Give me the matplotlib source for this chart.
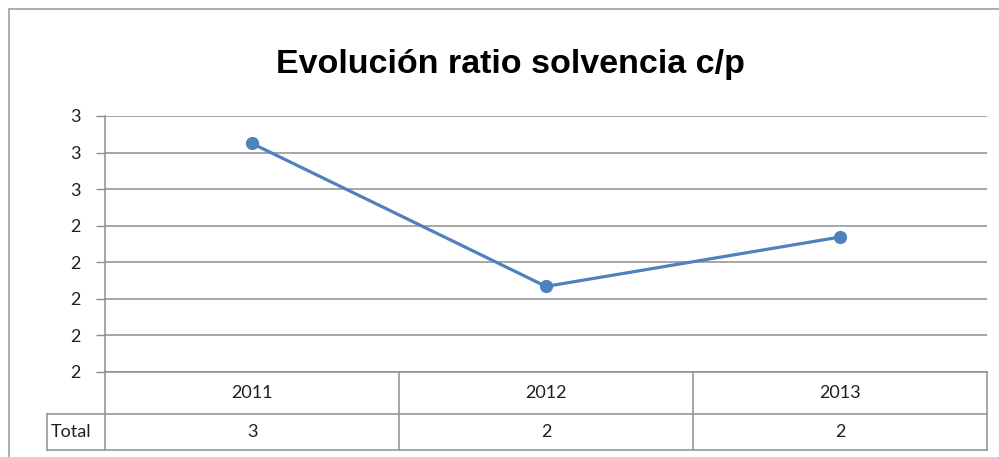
import matplotlib
matplotlib.use('Agg')
import matplotlib.pyplot as plt
from matplotlib.lines import Line2D
from matplotlib.patches import Rectangle
from matplotlib.transforms import blended_transform_factory

# datos
years = ['2011', '2012', '2013']
ratio = [2.625, 2.234, 2.369]
row_label = 'Total'
yticks = [2.0, 2.1, 2.2, 2.3, 2.4, 2.5, 2.6, 2.7]
ytick_labels = ['2', '2', '2', '2', '2', '3', '3', '3']   # Excel redondea sin decimales
title = 'Evolución ratio solvencia c/p'

W, H = 999, 457
GRID = '#8e8e8e'
BLUE = '#4f81bd'
TXT = '#1f1f1f'
FONT = ['Lato', 'DejaVu Sans']
FS = 13

fig = plt.figure(figsize=(W / 100, H / 100), dpi=100)

def fx(px):
    return px / W

def fy(py):
    return 1 - py / H

# borde exterior del área del gráfico
fig.add_artist(Rectangle((fx(9), fy(470)), 1.2, fy(9) - fy(470), transform=fig.transFigure,
                         fill=False, edgecolor='#a6a6a6', lw=1.3))

ax = fig.add_axes([fx(105), fy(372), fx(987) - fx(105), fy(116) - fy(372)])
x = list(range(len(years)))
ax.plot(x, ratio, color=BLUE, lw=2.3, marker='o', markersize=8.5, solid_capstyle='round', zorder=3)

ax.set_xlim(-0.5, len(years) - 0.5)
ax.set_ylim(yticks[0], yticks[-1])
ax.set_yticks(yticks)
ax.set_yticklabels(ytick_labels, fontsize=FS, color=TXT, family=FONT)
ax.tick_params(axis='y', length=6.5, width=1, color=GRID, pad=11)
ax.set_xticks([])
ax.grid(axis='y', color=GRID, lw=1.1)
for s in ['top', 'right', 'bottom']:
    ax.spines[s].set_visible(False)
ax.spines['left'].set_color(GRID)
ax.spines['left'].set_linewidth(1.1)

ax.set_title(title, fontsize=24.5, fontweight='bold', family=['Liberation Sans', 'DejaVu Sans'],
             pad=31)
ax.title.set_x((510 - 105) / (987 - 105))

# tabla de datos bajo el eje
tr = blended_transform_factory(ax.transData, fig.transFigure)
y_top, y_mid, y_bot = 372, 414, 450
lk = dict(color=GRID, lw=1.1, clip_on=False)

def hline(x0px, x1px, ypx):
    fig.add_artist(Line2D([fx(x0px), fx(x1px)], [fy(ypx), fy(ypx)], transform=fig.transFigure, **lk))

hline(105, 987, y_top)
hline(47, 987, y_mid)
hline(47, 987, y_bot)
fig.add_artist(Line2D([fx(47), fx(47)], [fy(y_mid), fy(y_bot)], transform=fig.transFigure, **lk))
fig.add_artist(Line2D([fx(105), fx(105)], [fy(y_top), fy(y_bot)], transform=fig.transFigure, **lk))
for b in [i + 0.5 for i in range(len(years))]:
    fig.add_artist(Line2D([b, b], [fy(y_top), fy(y_bot)], transform=tr, **lk))

for xi, yr, v in zip(x, years, ratio):
    fig.text(xi, fy((y_top + y_mid) / 2), yr, transform=tr, ha='center', va='center',
             fontsize=FS, color=TXT, family=FONT)
    fig.text(xi, fy((y_mid + y_bot) / 2), f'{v:.0f}', transform=tr, ha='center', va='center',
             fontsize=FS, color=TXT, family=FONT)
fig.text(fx(51), fy((y_mid + y_bot) / 2), row_label, ha='left', va='center',
         fontsize=FS, color=TXT, family=FONT)

fig.savefig('out.png', dpi=100)
